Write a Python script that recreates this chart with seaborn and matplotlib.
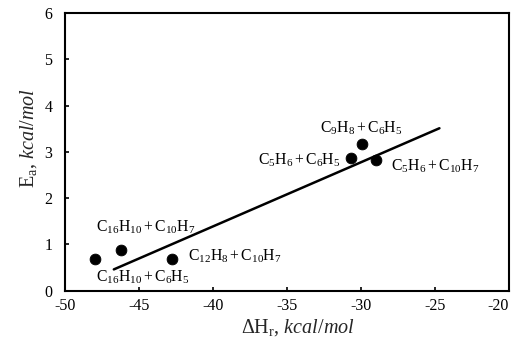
import matplotlib
matplotlib.use("Agg")
import matplotlib.pyplot as plt
import seaborn as sns
import pandas as pd

# Data
dH = [-48.0, -46.2, -42.8, -30.7, -29.9, -29.0]
Ea = [0.68, 0.89, 0.68, 2.86, 3.18, 2.82]
fit_x = [-46.7, -24.7]
fit_y = [0.46, 3.51]
labels = [r"$\mathrm{C_{16}H_{10} + C_{10}H_7}$",
          r"$\mathrm{C_{16}H_{10} + C_6H_5}$",
          r"$\mathrm{C_{12}H_8 + C_{10}H_7}$",
          r"$\mathrm{C_9H_8 + C_6H_5}$",
          r"$\mathrm{C_5H_6 + C_6H_5}$",
          r"$\mathrm{C_5H_6 + C_{10}H_7}$"]
label_x = [-47.9, -47.9, -41.7, -32.8, -31.4, -28.0]
label_y = [1.38, 0.30, 0.735, 3.51, 2.82, 2.68]
label_ha = ["left", "left", "left", "left", "right", "left"]
xticks = [-50, -45, -40, -35, -30, -25, -20]
yticks = [0, 1, 2, 3, 4, 5, 6]

sns.set_style("ticks")
plt.rcParams["font.family"] = ["Liberation Serif", "DejaVu Serif"]
plt.rcParams["mathtext.fontset"] = "custom"
plt.rcParams["mathtext.rm"] = "Liberation Serif"
plt.rcParams["mathtext.it"] = "Liberation Serif:italic"

df = pd.DataFrame({"dH": dH, "Ea": Ea})
fit = pd.DataFrame({"x": fit_x, "y": fit_y})

fig = plt.figure(figsize=(5.17, 3.45), dpi=100)
ax = fig.add_axes([0.1257, 0.1574, 0.8588, 0.8049])

sns.lineplot(data=fit, x="x", y="y", ax=ax, color="black", linewidth=1.8)
sns.scatterplot(data=df, x="dH", y="Ea", ax=ax, color="black", s=60,
                edgecolor="black", zorder=3)

for t, x, y, ha in zip(labels, label_x, label_y, label_ha):
    ax.text(x, y, t, ha=ha, va="center", fontsize=11.3, color="black")

ax.set_xlim(-50, -20)
ax.set_ylim(0, 6)
ax.set_xticks(xticks)
ax.set_yticks(yticks)
ax.set_xticklabels([str(v) for v in xticks])
ax.set_yticklabels([str(v) for v in yticks])
ax.tick_params(direction="in", length=3, width=1.2, labelsize=11.5, colors="black")
ax.tick_params(axis="x", pad=5)
ax.tick_params(axis="y", pad=9)
ax.get_xticklabels()[-1].set_horizontalalignment("right")
for s in ax.spines.values():
    s.set_linewidth(1.5)
    s.set_color("black")
    s.set_visible(True)

ax.set_xlabel(r"$\Delta\mathrm{H_r}$, $\it{kcal/mol}$", fontsize=14.5)
ax.set_ylabel(r"$\mathrm{E_a}$, $\it{kcal/mol}$", fontsize=14.5)
ax.xaxis.set_label_coords(0.525, -0.095)
ax.yaxis.set_label_coords(-0.058, 0.55)

fig.savefig("out.png", dpi=100)
